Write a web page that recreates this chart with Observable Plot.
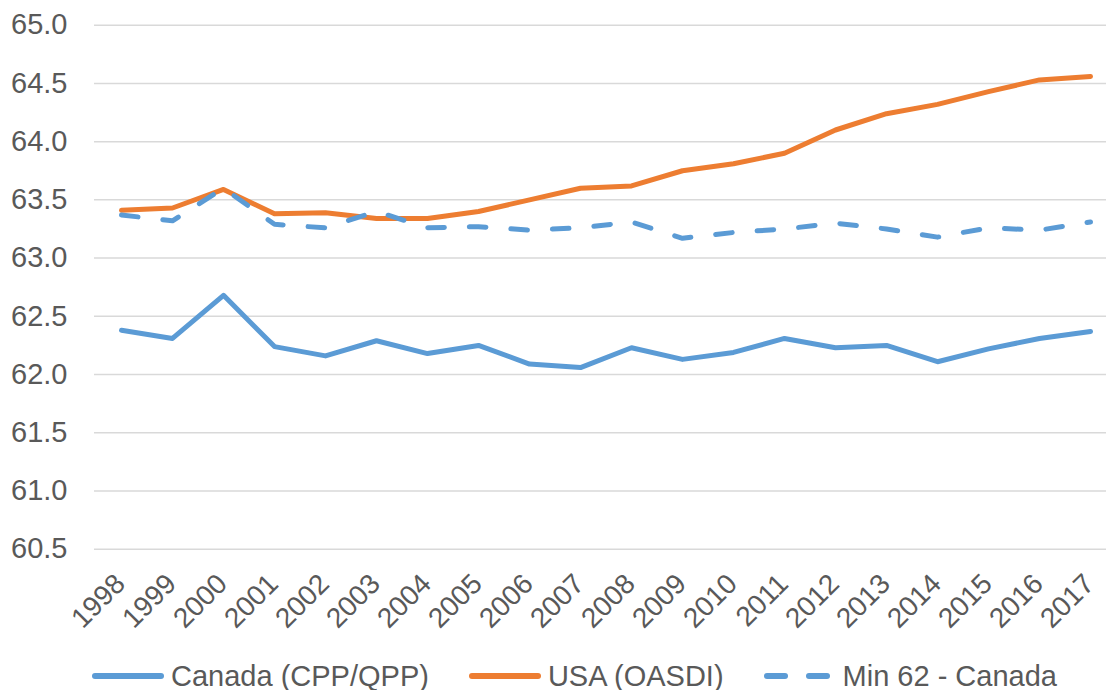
<!DOCTYPE html>
<html>
<head>
<meta charset="utf-8">
<script src="https://cdn.jsdelivr.net/npm/d3@7"></script>
<script src="https://cdn.jsdelivr.net/npm/@observablehq/plot@0.6"></script>
<style>
  html, body { margin: 0; padding: 0; background: #fff; }
  body { font-family: "Liberation Sans", Arial, sans-serif; }
  #chart { position: relative; width: 1106px; height: 690px; overflow: hidden; }
  #legend { position: absolute; left: 92px; top: 650px; height: 52px; display: flex; align-items: center;
            font-size: 29px; color: #595959; white-space: nowrap; }
  .item { display: flex; align-items: center; margin-right: 40px; }
  .sw { width: 72px; height: 6px; border-radius: 3px; margin-right: 7px; }
  .dash { display: flex; width: 66px; justify-content: space-between; margin-right: 13px; }
  .dash span { display: block; width: 24px; height: 6px; border-radius: 3px; }
</style>
</head>
<body>
<div id="chart"></div>
<script>
const years = [1998, 1999, 2000, 2001, 2002, 2003, 2004, 2005, 2006, 2007,
               2008, 2009, 2010, 2011, 2012, 2013, 2014, 2015, 2016, 2017];
const canada = [62.38, 62.31, 62.68, 62.24, 62.16, 62.29, 62.18, 62.25, 62.09, 62.06,
                62.23, 62.13, 62.19, 62.31, 62.23, 62.25, 62.11, 62.22, 62.31, 62.37];
const usa = [63.41, 63.43, 63.59, 63.38, 63.39, 63.34, 63.34, 63.40, 63.50, 63.60,
             63.62, 63.75, 63.81, 63.90, 64.10, 64.24, 64.32, 64.43, 64.53, 64.56];
const min62 = [63.37, 63.32, 63.60, 63.29, 63.26, 63.40, 63.26, 63.27, 63.24, 63.26,
               63.31, 63.17, 63.22, 63.25, 63.30, 63.25, 63.18, 63.26, 63.24, 63.31];
const seriesNames = ["Canada (CPP/QPP)", "USA (OASDI)", "Min 62 - Canada"];
const seriesColors = ["#5B9BD5", "#ED7D31", "#5B9BD5"];
const yTicks = [60.5, 61.0, 61.5, 62.0, 62.5, 63.0, 63.5, 64.0, 64.5, 65.0];

const toRows = (vals, name) => vals.map((v, i) => ({year: years[i], value: v, series: name}));
const rowsCanada = toRows(canada, seriesNames[0]);
const rowsUsa = toRows(usa, seriesNames[1]);
const rowsMin = toRows(min62, seriesNames[2]);

const H = 645;
const plot = Plot.plot({
  width: 1106,
  height: H,
  marginLeft: 94,
  marginRight: 0,
  marginTop: 24.7,
  marginBottom: H - 548.7,
  style: {fontFamily: "'Liberation Sans', Arial, sans-serif", background: "#fff", overflow: "visible"},
  x: {type: "point", domain: years, range: [118, 1092], padding: 0},
  y: {domain: [60.5, 65.0]},
  marks: [
    Plot.gridY(yTicks, {stroke: "#D9D9D9", strokeOpacity: 1, strokeWidth: 1.5}),
    Plot.axisY(yTicks, {tickSize: 0, tickPadding: 27, tickFormat: d => d.toFixed(1),
      fontSize: 29, fill: "#595959", label: null}),
    Plot.axisX(years, {tickSize: 0, tickRotate: -45, tickPadding: 30, dx: -1,
      textAnchor: "end", lineAnchor: "middle", fontSize: 28, fill: "#595959", label: null,
      tickFormat: d => String(d)}),
    Plot.line(rowsCanada, {x: "year", y: "value", stroke: seriesColors[0], strokeWidth: 5,
      strokeLinejoin: "round", strokeLinecap: "round"}),
    Plot.line(rowsUsa, {x: "year", y: "value", stroke: seriesColors[1], strokeWidth: 5,
      strokeLinejoin: "round", strokeLinecap: "round"}),
    Plot.line(rowsMin, {x: "year", y: "value", stroke: seriesColors[2], strokeWidth: 5,
      strokeLinejoin: "round", strokeLinecap: "round", strokeDasharray: "16.6,25"})
  ]
});

const chart = document.getElementById("chart");
chart.appendChild(plot);

const legend = document.createElement("div");
legend.id = "legend";
seriesNames.forEach((name, i) => {
  const item = document.createElement("div");
  item.className = "item";
  if (i === 2) {
    const d = document.createElement("div");
    d.className = "dash";
    for (let k = 0; k < 2; k++) {
      const s = document.createElement("span");
      s.style.background = seriesColors[i];
      d.appendChild(s);
    }
    item.appendChild(d);
  } else {
    const sw = document.createElement("div");
    sw.className = "sw";
    sw.style.background = seriesColors[i];
    item.appendChild(sw);
  }
  const t = document.createElement("span");
  t.textContent = name;
  item.appendChild(t);
  legend.appendChild(item);
});
chart.appendChild(legend);
</script>
</body>
</html>
